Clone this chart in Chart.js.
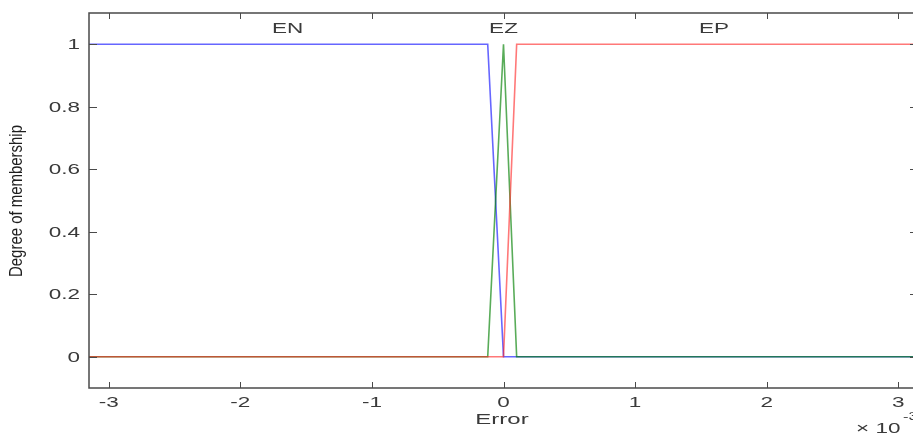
<!DOCTYPE html>
<html>
<head>
<meta charset="utf-8">
<script src="https://cdn.jsdelivr.net/npm/chart.js@4/dist/chart.umd.min.js"></script>
<style>
  html, body { margin: 0; padding: 0; background: #fff; overflow: hidden; }
  .chart-container { width: 925px; height: 434px; }
</style>
</head>
<body>
<div class="chart-container">
  <canvas id="mfChart" width="925" height="434"></canvas>
</div>
<script>
  // error axis in units of 1e-3
  const enX = [-3.15, -0.12, 0, 3.15];
  const enY = [1, 1, 0, 0];
  const ezX = [-3.15, -0.12, 0, 0.1, 3.15];
  const ezY = [0, 0, 1, 0, 0];
  const epX = [-3.15, 0, 0.1, 3.15];
  const epY = [0, 0, 1, 1];
  const mfNames = ["EN", "EZ", "EP"];
  const mfLabelX = [-1.64, 0, 1.6];
  const xTicks = [-3, -2, -1, 0, 1, 2, 3];
  const yTicks = [0, 0.2, 0.4, 0.6, 0.8, 1];

  function pts(xs, ys) {
    return xs.map((x, i) => ({ x: x, y: ys[i] }));
  }

  const textColor = "#3a3a3a";
  const axisColor = "#4a4a4a";
  const labelFont = "15px 'Liberation Sans', Arial, sans-serif";

  // matlab-ish wide lettering
  function wideText(ctx, txt, x, y, align, sx) {
    ctx.save();
    ctx.translate(x, y);
    ctx.scale(sx || 1.5, 1);
    ctx.textAlign = align;
    ctx.fillText(txt, 0, 0);
    ctx.restore();
  }

  const matlabAxes = {
    id: "matlabAxes",
    afterDraw(chart) {
      const ctx = chart.ctx;
      const a = chart.chartArea;
      const xs = chart.scales.x;
      const ys = chart.scales.y;
      ctx.save();
      ctx.strokeStyle = axisColor;
      ctx.lineWidth = 1.5;
      ctx.strokeRect(a.left, a.top, a.right - a.left, a.bottom - a.top);
      ctx.lineWidth = 1;
      ctx.beginPath();
      xTicks.forEach((t) => {
        const px = Math.round(xs.getPixelForValue(t)) + 0.5;
        ctx.moveTo(px, a.bottom);
        ctx.lineTo(px, a.bottom - 6);
        ctx.moveTo(px, a.top);
        ctx.lineTo(px, a.top + 6);
      });
      yTicks.forEach((t) => {
        const py = Math.round(ys.getPixelForValue(t)) + 0.5;
        ctx.moveTo(a.left, py);
        ctx.lineTo(a.left + 8, py);
        ctx.moveTo(a.right, py);
        ctx.lineTo(a.right - 8, py);
      });
      ctx.stroke();

      ctx.fillStyle = textColor;
      ctx.font = labelFont;
      ctx.textBaseline = "middle";

      // tick labels
      xTicks.forEach((t) => {
        wideText(ctx, String(t), xs.getPixelForValue(t), a.bottom + 15, "center");
      });
      yTicks.forEach((t) => {
        wideText(ctx, String(t), a.left - 9, ys.getPixelForValue(t) + 1, "right");
      });

      // membership function names
      mfNames.forEach((n, i) => {
        wideText(ctx, n, xs.getPixelForValue(mfLabelX[i]), ys.getPixelForValue(1.05), "center");
      });

      // x title and exponent
      wideText(ctx, "Error", 502, 420, "center", 1.6);
      wideText(ctx, "\u00d7 10", 856, 429, "left");
      ctx.font = "11px 'Liberation Sans', Arial, sans-serif";
      wideText(ctx, "-3", 903, 417, "left");

      // y title, tall narrow lettering
      const yTitle = "Degree of membership";
      ctx.font = "18px 'Liberation Sans Narrow', 'Liberation Sans', sans-serif";
      const w = ctx.measureText(yTitle).width;
      ctx.translate(17, 201);
      ctx.rotate(-Math.PI / 2);
      ctx.scale(152 / w, 1);
      ctx.textAlign = "center";
      ctx.fillStyle = "#1e1e1e";
      ctx.fillText(yTitle, 0, 0);
      ctx.restore();
    },
  };

  const ctx = document.getElementById("mfChart").getContext("2d");
  const myChart = new Chart(ctx, {
    type: "line",
    data: {
      datasets: [
        {
          label: "EP",
          data: pts(epX, epY),
          borderColor: "rgba(255, 30, 30, 0.6)",
          borderWidth: 1.6,
          pointRadius: 0,
        },
        {
          label: "EZ",
          data: pts(ezX, ezY),
          borderColor: "rgba(0, 128, 0, 0.65)",
          borderWidth: 1.6,
          pointRadius: 0,
        },
        {
          label: "EN",
          data: pts(enX, enY),
          borderColor: "rgba(20, 20, 255, 0.65)",
          borderWidth: 1.6,
          pointRadius: 0,
        },
      ],
    },
    options: {
      responsive: false,
      animation: false,
      layout: { padding: { top: 13, right: 7, left: 0, bottom: 0 } },
      plugins: { legend: { display: false }, tooltip: { enabled: false } },
      scales: {
        x: {
          type: "linear",
          min: -3.15,
          max: 3.15,
          afterFit: (s) => { s.height = 46; },
          grid: { display: false },
          border: { display: false },
          ticks: { display: false },
        },
        y: {
          min: -0.1,
          max: 1.1,
          afterFit: (s) => { s.width = 89; },
          grid: { display: false },
          border: { display: false },
          ticks: { display: false },
        },
      },
    },
    plugins: [matlabAxes],
  });
</script>
</body>
</html>
